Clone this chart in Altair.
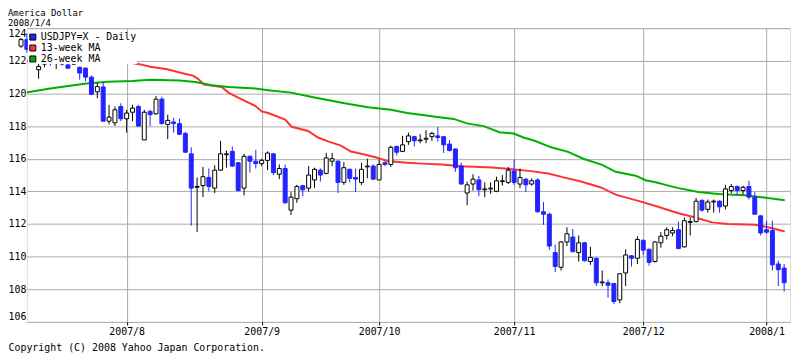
import json
import altair as alt
import pandas as pd

# ---- data (x = weekday index: 0 = 2007-07-06 ... 130 = 2008-01-04) ----
opens = [122.90, 123.30, 122.70, 121.45, 121.80, 122.10, 121.90, 121.95, 121.75, 121.80,
         121.60, 121.55, 121.00, 120.10, 120.40, 118.30, 118.20, 119.20, 118.45, 118.85,
         119.20, 117.15, 118.90, 118.75, 119.65, 118.10, 118.25, 118.15, 117.55, 116.30,
         114.25, 114.35, 114.85, 114.20, 115.30, 116.25, 116.45, 115.75, 114.20, 116.15,
         115.85, 115.70, 115.90, 116.30, 115.05, 115.40, 112.85, 113.55, 114.35, 114.20,
         114.70, 115.30, 115.10, 115.85, 115.85, 114.55, 115.35, 114.85, 114.55, 115.50,
         115.55, 114.70, 115.75, 115.65, 116.75, 116.45, 117.05, 117.35, 117.10, 117.20,
         117.35, 117.40, 117.35, 116.90, 116.60, 115.55, 113.90, 114.45, 114.70, 114.10,
         114.15, 114.00, 114.60, 114.55, 115.25, 114.45, 114.75, 114.45, 114.70, 112.75,
         112.60, 110.25, 109.35, 110.90, 111.20, 110.25, 110.85, 109.70, 109.90, 108.40,
         108.40, 108.35, 107.35, 109.00, 110.05, 109.90, 111.00, 110.45, 109.70, 110.85,
         111.30, 111.45, 111.65, 110.60, 112.10, 112.15, 113.45, 112.90, 113.35, 113.40,
         113.10, 114.05, 114.30, 114.05, 114.30, 113.65, 112.50, 111.65, 111.60, 109.55,
         109.30]
highs = [123.40, 123.70, 122.90, 121.90, 122.30, 122.40, 122.10, 122.20, 122.00, 122.10,
         121.65, 121.60, 121.10, 120.65, 120.70, 119.30, 119.20, 119.40, 119.00, 119.30,
         119.30, 119.00, 119.00, 119.85, 119.80, 118.70, 118.50, 118.45, 117.65, 116.70,
         114.85, 115.50, 115.40, 115.60, 117.10, 116.50, 116.75, 115.80, 116.30, 116.20,
         116.55, 116.00, 116.45, 116.35, 115.65, 115.65, 113.95, 114.40, 114.40, 115.55,
         115.45, 115.40, 116.35, 116.35, 115.90, 115.80, 115.40, 115.40, 115.75, 116.00,
         115.65, 115.95, 115.85, 116.80, 116.80, 117.40, 117.60, 117.40, 117.50, 117.75,
         117.65, 117.95, 117.40, 117.15, 116.60, 115.75, 114.60, 115.05, 114.95, 114.55,
         114.55, 114.90, 115.00, 115.50, 115.95, 115.40, 114.80, 114.80, 114.80, 113.35,
         112.70, 110.75, 110.95, 111.80, 111.70, 111.30, 110.90, 110.60, 109.95, 109.15,
         108.60, 108.40, 108.95, 110.45, 110.10, 111.25, 111.05, 110.50, 110.95, 111.50,
         111.80, 111.80, 112.15, 112.40, 112.40, 113.60, 113.50, 113.50, 113.50, 113.45,
         114.40, 114.45, 114.35, 114.35, 114.65, 113.95, 112.55, 112.20, 112.20, 109.75,
         109.55]
lows = [122.80, 122.50, 122.10, 120.90, 121.60, 121.70, 121.50, 121.70, 121.50, 121.75,
        120.85, 120.75, 119.90, 119.70, 118.30, 118.10, 118.00, 118.30, 117.60, 118.30,
        118.00, 117.15, 118.00, 118.70, 118.10, 117.20, 117.60, 117.45, 116.35, 111.90,
        111.50, 113.65, 114.00, 113.90, 115.25, 115.45, 115.50, 114.00, 113.75, 115.15,
        115.40, 115.55, 115.30, 115.00, 114.75, 113.25, 112.55, 113.30, 113.70, 114.00,
        114.20, 114.60, 115.05, 115.55, 113.90, 114.40, 114.55, 113.95, 114.40, 114.80,
        114.70, 114.70, 115.55, 115.50, 116.20, 116.40, 116.85, 116.75, 116.95, 116.95,
        117.10, 117.05, 116.35, 116.45, 115.20, 114.40, 113.15, 114.05, 113.70, 113.65,
        113.85, 113.95, 114.35, 114.45, 114.40, 114.20, 113.95, 114.35, 112.70, 111.95,
        110.40, 109.05, 109.15, 110.65, 110.30, 109.70, 109.70, 109.50, 108.20, 108.20,
        107.50, 107.10, 107.15, 108.20, 109.40, 109.55, 110.10, 109.45, 109.65, 110.55,
        111.05, 111.25, 110.45, 110.55, 111.30, 112.10, 112.75, 112.70, 112.70, 112.70,
        112.90, 113.90, 113.80, 113.80, 113.50, 112.60, 111.30, 111.40, 109.15, 108.20,
        107.85]
closes = [123.30, 122.70, 122.30, 121.65, 122.10, 121.90, 121.95, 121.80, 121.55, 122.00,
          121.25, 121.00, 119.95, 120.42, 118.30, 118.55, 119.00, 118.45, 118.80, 119.10,
          118.00, 118.85, 118.70, 119.65, 118.15, 118.35, 118.15, 117.50, 116.40, 114.20,
          114.30, 114.90, 114.30, 115.30, 116.30, 116.30, 115.55, 114.05, 116.15, 115.85,
          115.70, 115.90, 116.35, 115.15, 115.40, 113.30, 113.65, 114.30, 114.10, 115.00,
          115.35, 115.00, 116.05, 116.00, 114.55, 115.45, 114.80, 114.75, 115.35, 115.55,
          114.75, 115.65, 115.65, 116.70, 116.40, 116.85, 117.40, 117.10, 117.15, 117.25,
          117.55, 117.30, 116.85, 116.50, 115.45, 114.45, 114.40, 114.75, 114.10, 114.15,
          114.20, 114.65, 114.65, 115.30, 114.55, 114.85, 114.40, 114.65, 112.75, 112.60,
          110.65, 109.40, 110.90, 111.40, 110.30, 110.85, 109.75, 109.95, 108.40, 108.45,
          108.25, 107.25, 108.95, 110.10, 109.90, 111.05, 110.40, 109.65, 110.90, 111.25,
          111.65, 111.60, 110.50, 112.20, 112.15, 113.40, 112.85, 113.35, 113.40, 113.05,
          114.15, 114.30, 114.05, 114.25, 113.65, 112.60, 111.45, 111.50, 109.50, 109.20,
          108.40]

ma13_idx = [0, 13, 16.4, 18, 20.4, 22, 24.9, 27.7, 29.4, 30.2, 31.2, 34.2, 35.4, 37.6,
            39.9, 41, 42.1, 45, 46.1, 48.9, 50.6, 52.3, 54.5, 56.2, 58.5, 60.7, 62.4,
            65.8, 68.4, 71.7, 75.1, 80.2, 83.6, 86.9, 89.8, 92.6, 95.4, 98.8, 101.3,
            105.3, 108.1, 112, 114.9, 117.7, 120.5, 125, 127.8, 130.1]
ma13_val = [121.93, 122.28, 122.08, 121.92, 121.78, 121.64, 121.48, 121.22, 121.08,
            120.88, 120.54, 120.40, 120.04, 119.64, 119.24, 118.90, 118.80, 118.40,
            117.96, 117.70, 117.30, 117.06, 116.80, 116.44, 116.26, 116.06, 115.86,
            115.76, 115.70, 115.64, 115.54, 115.46, 115.36, 115.24, 115.10, 114.84,
            114.60, 114.24, 113.80, 113.40, 113.10, 112.66, 112.40, 112.10, 112.00,
            111.96, 111.76, 111.54]
ma26_idx = [0, 5, 10.8, 14.7, 19, 22, 27, 29.7, 32.5, 35.4, 39.9, 42.1, 46, 50, 55.1,
            59.1, 63, 65.8, 68.1, 70.9, 73.7, 76.1, 78.8, 81.5, 83.9, 85.6, 87.5, 90.3,
            93.2, 95.8, 99, 101.3, 104.7, 106.4, 108.1, 109.8, 112, 115.4, 118.8, 123.3,
            126.1, 130.1]
ma26_val = [120.00, 120.30, 120.60, 120.72, 120.76, 120.84, 120.80, 120.70, 120.50,
            120.40, 120.30, 120.20, 120.05, 119.75, 119.40, 119.16, 119.00, 118.80,
            118.70, 118.56, 118.44, 118.15, 118.00, 117.62, 117.54, 117.30, 117.10,
            116.70, 116.42, 116.00, 115.62, 115.20, 114.96, 114.68, 114.56, 114.40,
            114.20, 113.96, 113.84, 113.76, 113.64, 113.46]

tick_idx = [18, 41, 61, 84, 106, 127]
tick_labels = ["2007/8", "2007/9", "2007/10", "2007/11", "2007/12", "2008/1"]
y_ticks = [106, 108, 110, 112, 114, 116, 118, 120, 122, 124]

series_names = ["USDJPY=X - Daily", "13-week MA", "26-week MA"]
BLUE = "#2323ff"
RED = "#ff3333"
GREEN = "#00b000"
series_colors = [BLUE, RED, GREEN]

FONT = "DejaVu Sans Mono"
COPYRIGHT = "Copyright (C) 2008 Yahoo Japan Corporation."

# ---- tables ----
candles = pd.DataFrame({"i": list(range(len(opens))), "o": opens, "h": highs,
                        "l": lows, "c": closes})
ma13 = pd.DataFrame({"i": ma13_idx, "v": ma13_val})
ma26 = pd.DataFrame({"i": ma26_idx, "v": ma26_val})
legend_df = pd.DataFrame({"series": pd.Series([], dtype=str)})

label_expr = f"{json.dumps(tick_labels)}[indexof({json.dumps(tick_idx)}, datum.value)]"

x_scale = alt.Scale(domain=[1, 131], nice=False, zero=False, padding=0)
y_scale = alt.Scale(domain=[106, 124], nice=False, zero=False, padding=0)
x_axis = alt.Axis(values=tick_idx, labelExpr=label_expr, title=COPYRIGHT,
                  titleX=-19, titleY=29, titleAlign="left", titleBaseline="alphabetic",
                  titleFont=FONT, titleFontSize=10, titleFontWeight="normal",
                  titleColor="black", labelFont=FONT, labelFontSize=10,
                  labelColor="black", labelPadding=2, labelFlush=False,
                  labelOverlap=False, ticks=True, tickSize=3, tickColor="black",
                  grid=True, gridColor="#aaaaaa", domain=False)
y_axis = alt.Axis(values=y_ticks, title=None, ticks=False, labelPadding=1,
                  labelFlush=True, labelFont=FONT, labelFontSize=10,
                  labelColor="black", grid=True, gridColor="#aaaaaa", domain=False)

X = alt.X("i:Q", scale=x_scale, axis=x_axis)

up = "datum.c >= datum.o"

line13 = alt.Chart(ma13).mark_line(color=RED, strokeWidth=2, clip=True).encode(
    x=X, y=alt.Y("v:Q", scale=y_scale, axis=y_axis))
line26 = alt.Chart(ma26).mark_line(color=GREEN, strokeWidth=2, clip=True).encode(
    x=X, y=alt.Y("v:Q", scale=y_scale, axis=y_axis))

wicks = alt.Chart(candles).mark_rule(strokeWidth=1).encode(
    x=X,
    y=alt.Y("l:Q", scale=y_scale, axis=y_axis),
    y2="h:Q",
    color=alt.condition(up, alt.value("black"), alt.value(BLUE)),
)
bodies = alt.Chart(candles).mark_bar(size=4, strokeWidth=1).encode(
    x=X,
    y=alt.Y("o:Q", scale=y_scale, axis=y_axis),
    y2="c:Q",
    fill=alt.condition(up, alt.value("white"), alt.value(BLUE)),
    stroke=alt.condition(up, alt.value("black"), alt.value(BLUE)),
)

legend_layer = alt.Chart(legend_df).mark_square(
    filled=True, opacity=1, stroke="black", strokeWidth=1).encode(
    color=alt.Color("series:N",
                    scale=alt.Scale(domain=series_names, range=series_colors),
                    legend=alt.Legend(title=None, orient="none", legendX=1, legendY=4,
                                      fillColor="white", padding=0,
                                      symbolType="square", symbolSize=36,
                                      symbolOpacity=1,
                                      symbolStrokeColor="black", symbolStrokeWidth=1,
                                      labelFont=FONT, labelFontSize=10,
                                      labelColor="black", labelOffset=3,
                                      rowPadding=1))
)

chart = alt.layer(line13, line26, wicks, bodies, legend_layer).properties(
    width=769,
    height=296,
    autosize=alt.AutoSizeParams(type="none"),
    padding={"left": 19, "top": 19, "right": 2, "bottom": 32},
    title=alt.TitleParams(text="America Dollar", subtitle="2008/1/4", anchor="start",
                          frame="group", dx=-19, offset=0, font=FONT, fontSize=9,
                          fontWeight="normal", color="black", subtitleFont=FONT,
                          subtitleFontSize=9, subtitleColor="black",
                          subtitlePadding=1),
).configure_view(stroke="black", strokeWidth=1).configure(background="white")

chart.save("out.html", embed_options={"renderer": "svg", "actions": False})
